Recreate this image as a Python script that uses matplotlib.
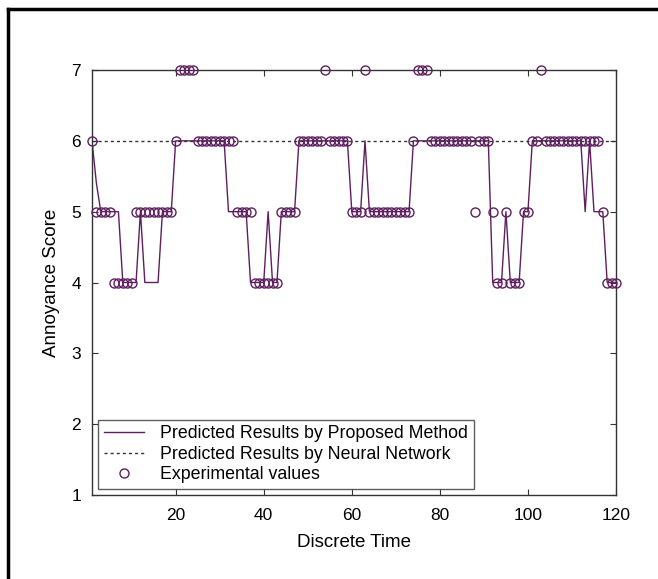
import numpy as np
import matplotlib
matplotlib.use("Agg")
import matplotlib.pyplot as plt
from matplotlib.lines import Line2D

# discrete time steps
t = np.arange(1, 121)

exp_runs = [(6, 1), (5, 4), (4, 5), (5, 9), (6, 1), (7, 4), (6, 9), (5, 4),
            (4, 6), (5, 4), (6, 6), (7, 1), (6, 5), (5, 3), (7, 1), (5, 10),
            (6, 1), (7, 3), (6, 10), (5, 1), (6, 3), (5, 1), (4, 2), (5, 1),
            (4, 3), (5, 2), (6, 2), (7, 1), (6, 13), (5, 1), (4, 3)]
experimental = np.array([v for v, n in exp_runs for _ in range(n)])

# predicted by proposed method
pred_runs = [(6, 1), (5.4, 1), (5, 5), (4, 4), (5, 1), (4, 4), (5, 3), (6, 12),
             (5, 5), (4, 4), (5, 1), (4, 2), (5, 4), (6, 12), (5, 3), (6, 1),
             (5, 10), (6, 18), (4, 3), (5, 1), (4, 3), (5, 2), (6, 12), (5, 1),
             (6, 1), (5, 3), (4, 3)]
predicted = np.array([v for v, n in pred_runs for _ in range(n)])

# predicted by neural network
neural = np.full(len(t), 6.0)

purple = '#5e1f5e'

plt.rcParams['font.family'] = ['Liberation Sans', 'DejaVu Sans']

fig = plt.figure(figsize=(6.58, 5.79), dpi=100)
ax = fig.add_axes([92/658, 1-495/579, (616-92)/658, (495-70)/579])

ax.plot(t, predicted, color=purple, lw=1.0, label='Predicted Results by Proposed Method')
ax.plot(t, neural, color='#333333', lw=1.0, ls=(0, (2.2, 2.2)),
        label='Predicted Results by Neural Network')
ax.plot(t, experimental, 'o', mfc='none', mec=purple, ms=6.5, mew=1.0,
        label='Experimental values', clip_on=False, zorder=3)

ax.set_xlim(1, 120)
ax.set_ylim(1, 7)
ax.set_xticks([20, 40, 60, 80, 100, 120])
ax.set_yticks([1, 2, 3, 4, 5, 6, 7])
ax.tick_params(direction='in', top=True, right=True, labelsize=12.5, length=4,
               color='#333333')
ax.tick_params(axis='x', pad=9)
ax.tick_params(axis='y', pad=8)
for s in ax.spines.values():
    s.set_color('#333333')
    s.set_linewidth(1.0)

ax.set_xlabel('Discrete Time', fontsize=13.5, labelpad=8)
ax.set_ylabel('Annoyance Score', fontsize=13.5, labelpad=8)

leg = ax.legend(loc='lower left', fontsize=12.8, frameon=True, fancybox=False,
                borderpad=0.3, labelspacing=0.2, handlelength=2.3,
                handletextpad=0.9, borderaxespad=0.35)
leg.get_frame().set_edgecolor('#333333')
leg.get_frame().set_linewidth(1.0)

# outer frame of the figure
fig.add_artist(Line2D([8/658, 8/658], [0, 1-9/579], color='black', lw=2.5,
                      transform=fig.transFigure))
fig.add_artist(Line2D([8/658, 1], [1-9/579, 1-9/579], color='black', lw=2.5,
                      transform=fig.transFigure))

fig.savefig('out.png', dpi=100)
